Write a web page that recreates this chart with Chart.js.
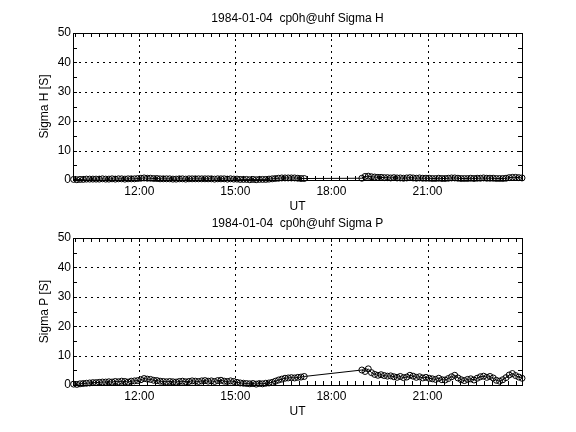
<!DOCTYPE html>
<html>
<head>
<meta charset="utf-8">
<script src="https://cdn.jsdelivr.net/npm/chart.js@4.4.1/dist/chart.umd.min.js"></script>
<style>
  body { margin: 0; background: #fff; }
  #wrap { position: relative; width: 576px; height: 432px; }
  canvas { position: absolute; left: 0; }
</style>
</head>
<body>
<div id="wrap">
  <canvas id="chartH" width="576" height="216" style="top:0px;width:576px;height:216px"></canvas>
  <canvas id="chartP" width="576" height="216" style="top:205px;width:576px;height:216px"></canvas>
</div>
<script>
// UT hours of each sample (decimal hours), two runs with a gap between them
const timesA = [
  9.95, 10.05, 10.15, 10.25, 10.35, 10.45, 10.55, 10.65, 10.75, 10.85, 10.95,
  11.05, 11.15, 11.25, 11.35, 11.45, 11.55, 11.65, 11.75, 11.85, 11.95,
  12.05, 12.15, 12.25, 12.35, 12.45, 12.55, 12.65, 12.75, 12.85, 12.95,
  13.05, 13.15, 13.25, 13.35, 13.45, 13.55, 13.65, 13.75, 13.85, 13.95,
  14.05, 14.15, 14.25, 14.35, 14.45, 14.55, 14.65, 14.75, 14.85, 14.95,
  15.05, 15.15, 15.25, 15.35, 15.45, 15.55, 15.65, 15.75, 15.85, 15.95,
  16.05, 16.15, 16.25, 16.35, 16.45, 16.55, 16.65, 16.75, 16.85, 16.95,
  17.05, 17.15
];
const timesB = [
  18.95, 19.05, 19.15, 19.25, 19.35, 19.45, 19.55, 19.65, 19.75, 19.85,
  19.95, 20.05, 20.15, 20.25, 20.35, 20.45, 20.55, 20.65, 20.75, 20.85,
  20.95, 21.05, 21.15, 21.25, 21.35, 21.45, 21.55, 21.65, 21.75, 21.85,
  21.95, 22.05, 22.15, 22.25, 22.35, 22.45, 22.55, 22.65, 22.75, 22.85,
  22.95, 23.05, 23.15, 23.25, 23.35, 23.45, 23.55, 23.65, 23.75, 23.85,
  23.95
];

// Hall conductance [S]
const sigmaH = [
  0.2, 0.1, 0.2, 0.2, 0.3, 0.3, 0.3, 0.3, 0.3, 0.4, 0.3,
  0.3, 0.4, 0.3, 0.4, 0.4, 0.3, 0.4, 0.4, 0.4, 0.5,
  0.6, 0.7, 0.6, 0.6, 0.5, 0.5, 0.4, 0.4, 0.4, 0.4,
  0.3, 0.3, 0.4, 0.4, 0.3, 0.4, 0.4, 0.4, 0.4, 0.4,
  0.4, 0.4, 0.4, 0.3, 0.4, 0.4, 0.4, 0.3, 0.4, 0.3,
  0.3, 0.2, 0.2, 0.2, 0.1, 0.2, 0.1, 0.2, 0.2, 0.2,
  0.3, 0.4, 0.5, 0.6, 0.7, 0.7, 0.7, 0.7, 0.7, 0.6,
  0.5, 0.5,
  0.6, 1.2, 1.3, 1.1, 1.0, 0.9, 0.9, 0.8, 0.8, 0.7,
  0.8, 0.7, 0.7, 0.6, 0.7, 0.8, 0.7, 0.6, 0.7, 0.6,
  0.6, 0.6, 0.5, 0.5, 0.6, 0.5, 0.5, 0.6, 0.7, 0.7,
  0.6, 0.5, 0.5, 0.5, 0.6, 0.5, 0.6, 0.6, 0.7, 0.6,
  0.6, 0.6, 0.5, 0.5, 0.5, 0.6, 0.8, 0.9, 0.9, 0.8,
  0.7
];

// Pedersen conductance [S]
const sigmaP = [
  0.3, 0.2, 0.4, 0.5, 0.6, 0.7, 0.8, 0.8, 0.9, 1.0, 1.0,
  1.1, 1.0, 1.2, 1.1, 1.3, 1.2, 1.0, 1.3, 1.4, 1.5,
  1.8, 2.2, 2.0, 1.9, 1.6, 1.5, 1.3, 1.2, 1.1, 1.2,
  1.1, 1.0, 1.2, 1.3, 1.1, 1.2, 1.4, 1.3, 1.2, 1.4,
  1.5, 1.3, 1.4, 1.2, 1.5, 1.6, 1.3, 1.2, 1.4, 1.2,
  0.9, 0.7, 0.6, 0.5, 0.4, 0.5, 0.3, 0.5, 0.4, 0.6,
  0.7, 0.9, 1.3, 1.7, 2.0, 2.3, 2.4, 2.5, 2.4, 2.6,
  2.7, 2.9,
  5.1, 4.6, 5.5, 4.2, 3.6, 3.3, 3.5, 3.2, 3.0, 3.1,
  2.8, 2.6, 2.9, 2.5, 2.7, 3.3, 3.0, 2.6, 2.8, 2.4,
  2.6, 2.3, 2.1, 1.9, 2.3, 1.8, 1.7, 2.2, 2.8, 3.3,
  2.4, 1.8, 1.5, 1.9, 2.1, 1.7, 2.3, 2.8, 3.0, 2.6,
  2.9, 2.4, 1.6, 1.3, 1.8, 2.5, 3.4, 3.9, 3.2, 2.7,
  2.3
];

// axis ticks
const xTickValues = [12, 15, 18, 21];
const xTickLabels = ['12:00', '15:00', '18:00', '21:00'];
const yTickValues = [0, 10, 20, 30, 40, 50];
const xMin = 9.93, xMax = 23.95;

const times = timesA.concat(timesB);

Chart.defaults.font.family = "'Liberation Sans', Arial, sans-serif";
Chart.defaults.font.size = 12;
Chart.defaults.color = '#000';

// IDL style frame: dotted grid, box, inward minor ticks, title on top
const idlFrame = {
  id: 'idlFrame',
  beforeDatasetsDraw(chart) {
    const { ctx, chartArea: a, scales: { x, y } } = chart;
    ctx.save();
    ctx.strokeStyle = '#000';
    ctx.lineWidth = 1;
    ctx.setLineDash([2, 4]);
    ctx.beginPath();
    xTickValues.forEach(v => {
      const px = Math.round(x.getPixelForValue(v)) + 0.5;
      ctx.moveTo(px, a.top); ctx.lineTo(px, a.bottom);
    });
    yTickValues.slice(1, -1).forEach(v => {
      const py = Math.round(y.getPixelForValue(v)) + 0.5;
      ctx.moveTo(a.left, py); ctx.lineTo(a.right, py);
    });
    ctx.stroke();
    ctx.restore();
  },
  afterDatasetsDraw(chart) {
    const { ctx, chartArea: a, scales: { x, y } } = chart;
    ctx.save();
    ctx.strokeStyle = '#000';
    ctx.lineWidth = 1;
    ctx.setLineDash([]);
    ctx.strokeRect(Math.round(a.left) + 0.5, Math.round(a.top) + 0.5,
      Math.round(a.right - a.left), Math.round(a.bottom - a.top));
    ctx.beginPath();
    // minor ticks every 15 min on x
    for (let h = 10; h < xMax; h += 0.25) {
      const px = Math.round(x.getPixelForValue(h)) + 0.5;
      ctx.moveTo(px, a.bottom); ctx.lineTo(px, a.bottom - 4);
      ctx.moveTo(px, a.top); ctx.lineTo(px, a.top + 4);
    }
    // minor ticks every 5 on y
    for (let v = 5; v < 50; v += 5) {
      const py = Math.round(y.getPixelForValue(v)) + 0.5;
      ctx.moveTo(a.left, py); ctx.lineTo(a.left + 4, py);
      ctx.moveTo(a.right, py); ctx.lineTo(a.right - 4, py);
    }
    ctx.stroke();
    // title
    ctx.fillStyle = '#000';
    ctx.font = "12px 'Liberation Sans', Arial, sans-serif";
    ctx.textAlign = 'center';
    ctx.textBaseline = 'middle';
    ctx.fillText(chart.options.plugins.idlFrame.title, (a.left + a.right) / 2, a.top - 14);
    ctx.restore();
  }
};

function makePanel(canvasId, values, title, yTitle) {
  const ctx = document.getElementById(canvasId).getContext('2d');
  return new Chart(ctx, {
    type: 'line',
    data: {
      datasets: [{
        data: times.map((t, i) => ({ x: t, y: values[i] })),
        borderColor: '#000',
        borderWidth: 1,
        backgroundColor: 'rgba(0,0,0,0)',
        pointRadius: 3,
        pointBorderWidth: 1,
        pointBorderColor: '#000',
        pointBackgroundColor: 'rgba(0,0,0,0)',
        tension: 0,
        clip: 5
      }]
    },
    options: {
      responsive: false,
      animation: false,
      layout: { padding: { left: 37, right: 54, top: 33, bottom: 0 } },
      plugins: {
        legend: { display: false },
        tooltip: { enabled: false },
        idlFrame: { title: title }
      },
      scales: {
        x: {
          type: 'linear',
          min: xMin,
          max: xMax,
          grid: { display: false, drawTicks: false },
          border: { display: false },
          afterBuildTicks: scale => { scale.ticks = xTickValues.map(v => ({ value: v })); },
          afterFit: scale => { scale.height = 36; },
          ticks: {
            padding: 4,
            maxRotation: 0,
            callback: (v) => xTickLabels[xTickValues.indexOf(v)]
          },
          title: { display: true, text: 'UT', padding: { top: 0, bottom: 2 } }
        },
        y: {
          min: 0,
          max: 50,
          grid: { display: false, drawTicks: false },
          border: { display: false },
          afterBuildTicks: scale => { scale.ticks = yTickValues.map(v => ({ value: v })); },
          afterFit: scale => { scale.width = 36; },
          ticks: { padding: 2 },
          title: { display: true, text: yTitle, padding: { top: 0, bottom: 0 } }
        }
      }
    },
    plugins: [idlFrame]
  });
}

makePanel('chartH', sigmaH, '1984-01-04  cp0h@uhf Sigma H', 'Sigma H [S]');
makePanel('chartP', sigmaP, '1984-01-04  cp0h@uhf Sigma P', 'Sigma P [S]');
</script>
</body>
</html>
